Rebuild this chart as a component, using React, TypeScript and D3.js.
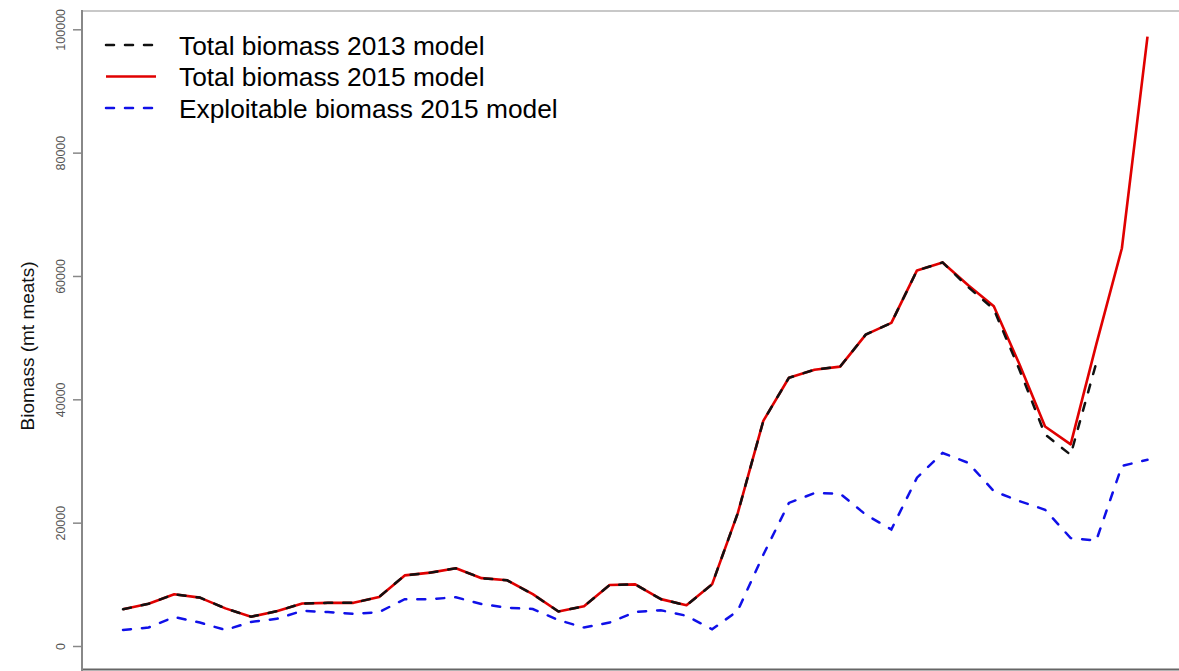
import React, { useEffect, useRef } from 'react';
import * as d3 from 'd3';

const years = [1975, 1976, 1977, 1978, 1979, 1980, 1981, 1982, 1983, 1984, 1985, 1986, 1987, 1988, 1989, 1990, 1991, 1992, 1993, 1994, 1995, 1996, 1997, 1998, 1999, 2000, 2001, 2002, 2003, 2004, 2005, 2006, 2007, 2008, 2009, 2010, 2011, 2012, 2013, 2014, 2015];

const total2013 = [5950, 6850, 8400, 7850, 6100, 4750, 5650, 6900, 7000, 7000, 7950, 11450, 11900, 12600, 11000, 10650, 8400, 5600, 6450, 9900, 10000, 7600, 6600, 10000, 21500, 36500, 43500, 44800, 45300, 50500, 52400, 60900, 62200, 58200, 54600, 44800, 34300, 31000, 45900];

const total2015 = [5950, 6850, 8400, 7850, 6100, 4750, 5650, 6900, 7000, 7000, 7950, 11450, 11900, 12600, 11000, 10650, 8400, 5600, 6450, 9900, 10000, 7600, 6600, 10000, 21500, 36500, 43500, 44800, 45300, 50500, 52400, 60900, 62200, 58500, 55100, 45700, 35600, 32700, 48900, 64500, 98800];

const exploit2015 = [2600, 3000, 4700, 3800, 2600, 3900, 4400, 5700, 5500, 5200, 5500, 7600, 7600, 7900, 6800, 6200, 6000, 4200, 3000, 3800, 5500, 5800, 4900, 2700, 5700, 14800, 23200, 24800, 24700, 21300, 18900, 27300, 31300, 29700, 25100, 23500, 22100, 17500, 17100, 29200, 30200];

const yTicks = [0, 20000, 40000, 60000, 80000, 100000];

const legendLabels = ['Total biomass 2013 model', 'Total biomass 2015 model', 'Exploitable biomass 2015 model'];

const W = 1179;
const H = 671;
const FONT = '"Liberation Sans", Arial, sans-serif';

const BiomassChart = () => {
    const svgRef = useRef<SVGSVGElement>(null);

    useEffect(() => {
        if (!svgRef.current) return;
        const svg = d3.select(svgRef.current);
        svg.selectAll('*').remove();

        const x = d3.scaleLinear().domain([years[0], years[years.length - 1]]).range([123, 1147.5]);
        const y = d3.scaleLinear().domain([0, 100000]).range([646, 29.3]);

        // plot frame (right side falls outside the picture)
        svg.append('line').attr('x1', 82).attr('x2', W).attr('y1', 11).attr('y2', 11)
            .attr('stroke', '#c8c8c8').attr('stroke-width', 2);
        svg.append('line').attr('x1', 82).attr('x2', W).attr('y1', 669.5).attr('y2', 669.5)
            .attr('stroke', '#666').attr('stroke-width', 2);
        svg.append('line').attr('x1', 82).attr('x2', 82).attr('y1', 10).attr('y2', 671)
            .attr('stroke', '#888').attr('stroke-width', 2);

        // y axis
        const yAxis = d3.axisLeft(y).tickValues(yTicks).tickSize(9).tickFormat(d3.format('d'));
        const ag = svg.append('g').attr('transform', 'translate(82,0)').call(yAxis);
        ag.select('.domain').remove();
        ag.selectAll('.tick line').attr('stroke', '#888').attr('stroke-width', 1.5);
        ag.selectAll('.tick text')
            .attr('x', 0).attr('dy', 0)
            .attr('transform', 'translate(-17,0) rotate(-90)')
            .attr('text-anchor', 'middle')
            .attr('fill', '#555')
            .style('font-family', FONT)
            .style('font-size', '12.5px');

        svg.append('text')
            .attr('transform', 'translate(34,346) rotate(-90)')
            .attr('text-anchor', 'middle')
            .style('font-family', FONT)
            .style('font-size', '19px')
            .attr('fill', '#111')
            .text('Biomass (mt meats)');

        const line = d3.line<number>().x((d, i) => x(years[i])).y(d => y(d));

        svg.append('path').datum(total2015).attr('d', line)
            .attr('fill', 'none').attr('stroke', '#e00000').attr('stroke-width', 2.6)
            .attr('stroke-linejoin', 'round');
        svg.append('path').datum(total2013).attr('d', line)
            .attr('fill', 'none').attr('stroke', '#111').attr('stroke-width', 2.5)
            .attr('stroke-dasharray', '8,11').attr('stroke-linecap', 'round');
        svg.append('path').datum(exploit2015).attr('d', line)
            .attr('fill', 'none').attr('stroke', '#1010e8').attr('stroke-width', 2.5)
            .attr('stroke-dasharray', '8,11').attr('stroke-linecap', 'round');

        // legend
        const styles = [
            { color: '#111', dash: '8,11' },
            { color: '#e00000', dash: null },
            { color: '#1010e8', dash: '8,11' },
        ];
        const lg = svg.append('g');
        legendLabels.forEach((label, i) => {
            const cy = 45 + i * 31.5;
            lg.append('line').attr('x1', 106).attr('x2', 156).attr('y1', cy).attr('y2', cy)
                .attr('stroke', styles[i].color).attr('stroke-width', 2.5)
                .attr('stroke-dasharray', styles[i].dash)
                .attr('stroke-linecap', styles[i].dash ? 'round' : 'butt');
            lg.append('text').attr('x', 179).attr('y', cy + 9.5)
                .style('font-family', FONT).style('font-size', '26.3px')
                .attr('fill', '#000')
                .text(label);
        });
    }, []);

    return <svg ref={svgRef} width={W} height={H} style={{ position: 'absolute', left: 0, top: 0, background: '#fff' }} />;
};

export default function App() {
    return <BiomassChart />;
}
